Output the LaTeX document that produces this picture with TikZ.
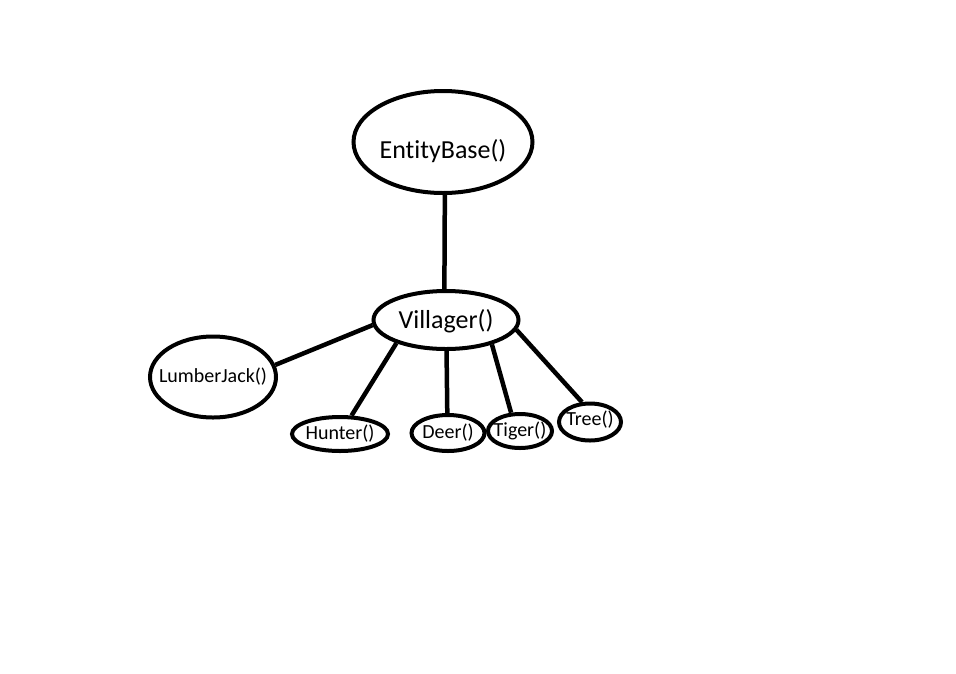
\documentclass[tikz,border=0pt]{standalone}
\usepackage{fontspec}
\setmainfont{Carlito}[Ligatures={NoCommon}]
\usetikzlibrary{shapes.geometric}
\newcommand{\objtext}[2][0pt]{\makebox[0pt]{\raisebox{#1}[\height][\depth]{#2}}}

\begin{document}
\begin{tikzpicture}[x=1pt, y=-1pt,
	obj/.style={ellipse, draw, line width=4pt, inner sep=0pt},
	big/.style={font=\fontsize{26}{30}\selectfont},
	small/.style={font=\fontsize{20}{24}\selectfont},
	link/.style={line width=4.5pt}]
	\useasboundingbox (0,0) rectangle (956,673);
	\node [obj, big, minimum width=179, minimum height=102] (entity) at (443,142) {\objtext[-9pt]{EntityBase()}};
	\node [obj, big, minimum width=145, minimum height=58] (villager) at (446,320) {\objtext[-1pt]{Villager()}};
	\node [obj, small, minimum width=126, minimum height=81] (lumber) at (213,377) {\objtext{LumberJack()}};
	\node [obj, small, minimum width=96, minimum height=34] (hunter) at (340,434) {\objtext{Hunter()}};
	\node [obj, small, minimum width=73, minimum height=36] (deer) at (448,433) {\objtext{Deer()}};
	\node [obj, small, minimum width=64, minimum height=34] (tiger) at (520,431) {\objtext{Tiger()}};
	\node [obj, small, minimum width=62, minimum height=37] (tree) at (590,422) {\objtext[2pt]{Tree()}};
	\draw [link] (entity.272) -- (villager.93);
	\draw [link] (villager.184) -- (lumber.11);
	\draw [link] (villager.205) -- (hunter.58);
	\draw [link] (villager.271) -- (deer.92);
	\draw [link] (villager.332) -- (tiger.116);
	\draw [link] (villager.352) -- (tree.112);
\end{tikzpicture}
\end{document}
